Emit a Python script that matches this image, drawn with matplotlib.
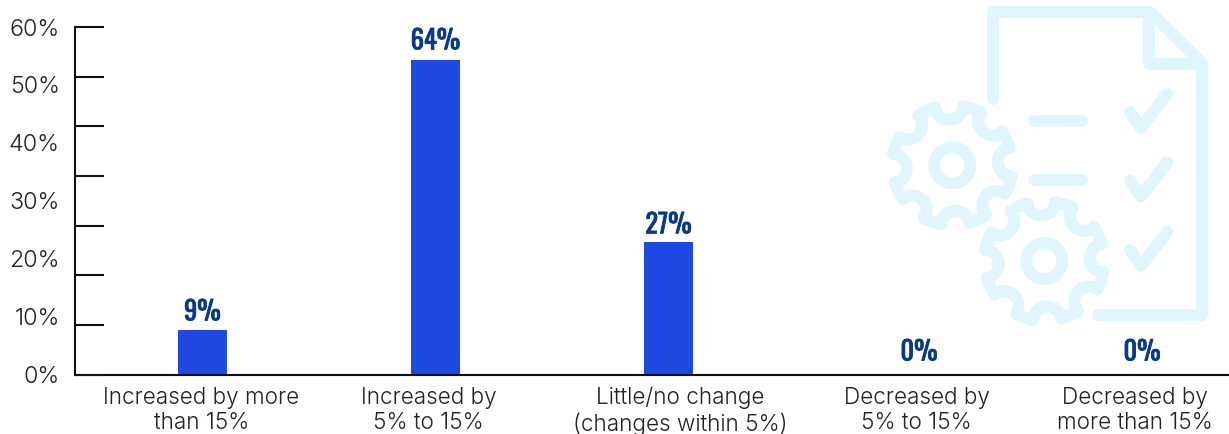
import numpy as np
import matplotlib
matplotlib.use("Agg")
import matplotlib.pyplot as plt
import matplotlib.patheffects as pe
from matplotlib.font_manager import fontManager

# Survey results
categories = ["Increased by more\nthan 15%", "Increased by\n5% to 15%",
              "Little/no change\n(changes within 5%)", "Decreased by\n5% to 15%",
              "Decreased by\nmore than 15%"]
shares = [9, 64, 27, 0, 0]
value_labels = ["9%", "64%", "27%", "0%", "0%"]
axis_labels = ["0%", "10%", "20%", "30%", "40%", "50%", "60%"]

BAR = "#1F49E3"
NAVY = "#083A8C"
INK = "#222222"
ICON = "#DFF6FE"
W, H = 1229, 434

names = {f.name for f in fontManager.ttflist}
figure_font = next((n for n in ("Oswald", "Liberation Sans Narrow", "Liberation Sans") if n in names))
plt.rcParams["font.family"] = ["Inter", "DejaVu Sans"]
fig = plt.figure(figsize=(W / 100, H / 100), dpi=100)

# Background layer in pixel coordinates for the document-and-gears icon
bg = fig.add_axes([0, 0, 1, 1], zorder=0)
bg.set_xlim(0, W)
bg.set_ylim(H, 0)
bg.axis("off")


def stroke(pts, closed=False, lw=8.6):
    pts = np.asarray(pts, float)
    if closed:
        pts = np.vstack([pts, pts[:2]])
    bg.plot(pts[:, 0], pts[:, 1], color=ICON, lw=lw,
            solid_capstyle="round", solid_joinstyle="round")


def gear(cx, cy, turn=-3.0, r_out=60.0, notch_r=14.5):
    pts = []
    for k in range(8):
        a = np.radians(turn + 45 * k)
        half = np.radians(13.5)
        # tooth tip along the outer radius
        for t in np.linspace(a - np.radians(45) + half, a - half, 6):
            pts.append((cx + r_out * np.cos(t), cy + r_out * np.sin(t)))
        # scalloped notch between two teeth
        nx, ny = cx + r_out * np.cos(a), cy + r_out * np.sin(a)
        start = np.arctan2(r_out * np.sin(a - half) + cy - ny, r_out * np.cos(a - half) + cx - nx)
        end = np.arctan2(r_out * np.sin(a + half) + cy - ny, r_out * np.cos(a + half) + cx - nx)
        if end > start:
            end -= 2 * np.pi
        for t in np.linspace(start, end, 16):
            pts.append((nx + notch_r * np.cos(t), ny + notch_r * np.sin(t)))
    stroke(pts, closed=True)
    t = np.linspace(0, 2 * np.pi, 80)
    stroke(np.c_[cx + 18 * np.cos(t), cy + 18 * np.sin(t)])


stroke([(993, 99), (993, 12), (1150, 12), (1202, 63), (1202, 315), (1098, 315)])
stroke([(1149, 12), (1149, 64), (1202, 64)])
for y in (121, 180):
    stroke([(1034, y), (1082, y)])
for dy in (0, 68.5, 138):
    stroke([(1130, 112 + dy), (1141, 128 + dy), (1167, 94 + dy)])
gear(952.3, 165.3)
gear(1044.3, 261)

# Chart layer
ax = fig.add_axes([75 / W, 1 - 374.5 / H, (W - 75) / W, 347.5 / H], zorder=1)
ax.patch.set_alpha(0)
x = np.arange(len(categories))
ymax = 70.7
ax.set_xlim(-0.547, 4.405)
ax.set_ylim(0, ymax)
ax.bar(x, shares, width=0.21, color=BAR, zorder=2)

for s in ("top", "right"):
    ax.spines[s].set_visible(False)
for s in ("left", "bottom"):
    ax.spines[s].set_linewidth(1.5)
    ax.spines[s].set_color("#111111")

# Long inward marks without text; the percentage labels sit on their own, wider grid
ax.yaxis.remove_overlapping_locs = False
ax.set_yticks(np.linspace(0, ymax, 8))
ax.set_yticklabels([])
ax.tick_params(axis="y", which="major", direction="in", length=21, width=1.5, color="#111111")
ax.set_yticks(np.linspace(0, ymax, 7), minor=True)
ax.set_yticklabels(axis_labels, minor=True, fontsize=16.8, color=INK, fontweight=300)
ax.tick_params(axis="y", which="minor", length=0, pad=11)

ax.set_xticks([])

# Nudges for the category and value text: horizontal in category units, vertical in points
cat_nudge = [-0.005, -0.03, 0.05, 0.065, 0.0]
val_nudge = [0, 0, 0, 0.075, 0.032]
val_lift = [3.5, 4, 2.5, 6.5, 6.5]
for xi, cat, dx in zip(x, categories, cat_nudge):
    ax.annotate(cat, (xi + dx, 0), xytext=(0, -8.8), textcoords="offset points",
                ha="center", va="top", fontsize=16.2, color=INK, fontweight=300,
                linespacing=1.2, annotation_clip=False)
for xi, v, lab, dx, lift in zip(x, shares, value_labels, val_nudge, val_lift):
    t = ax.annotate(lab, (xi + dx, v), xytext=(0, lift), textcoords="offset points",
                    ha="center", va="bottom", fontsize=19, color=NAVY, fontweight="bold",
                    family=figure_font)
    t.set_path_effects([pe.withStroke(linewidth=0.6, foreground=NAVY)])

fig.savefig("out.png", dpi=100)
